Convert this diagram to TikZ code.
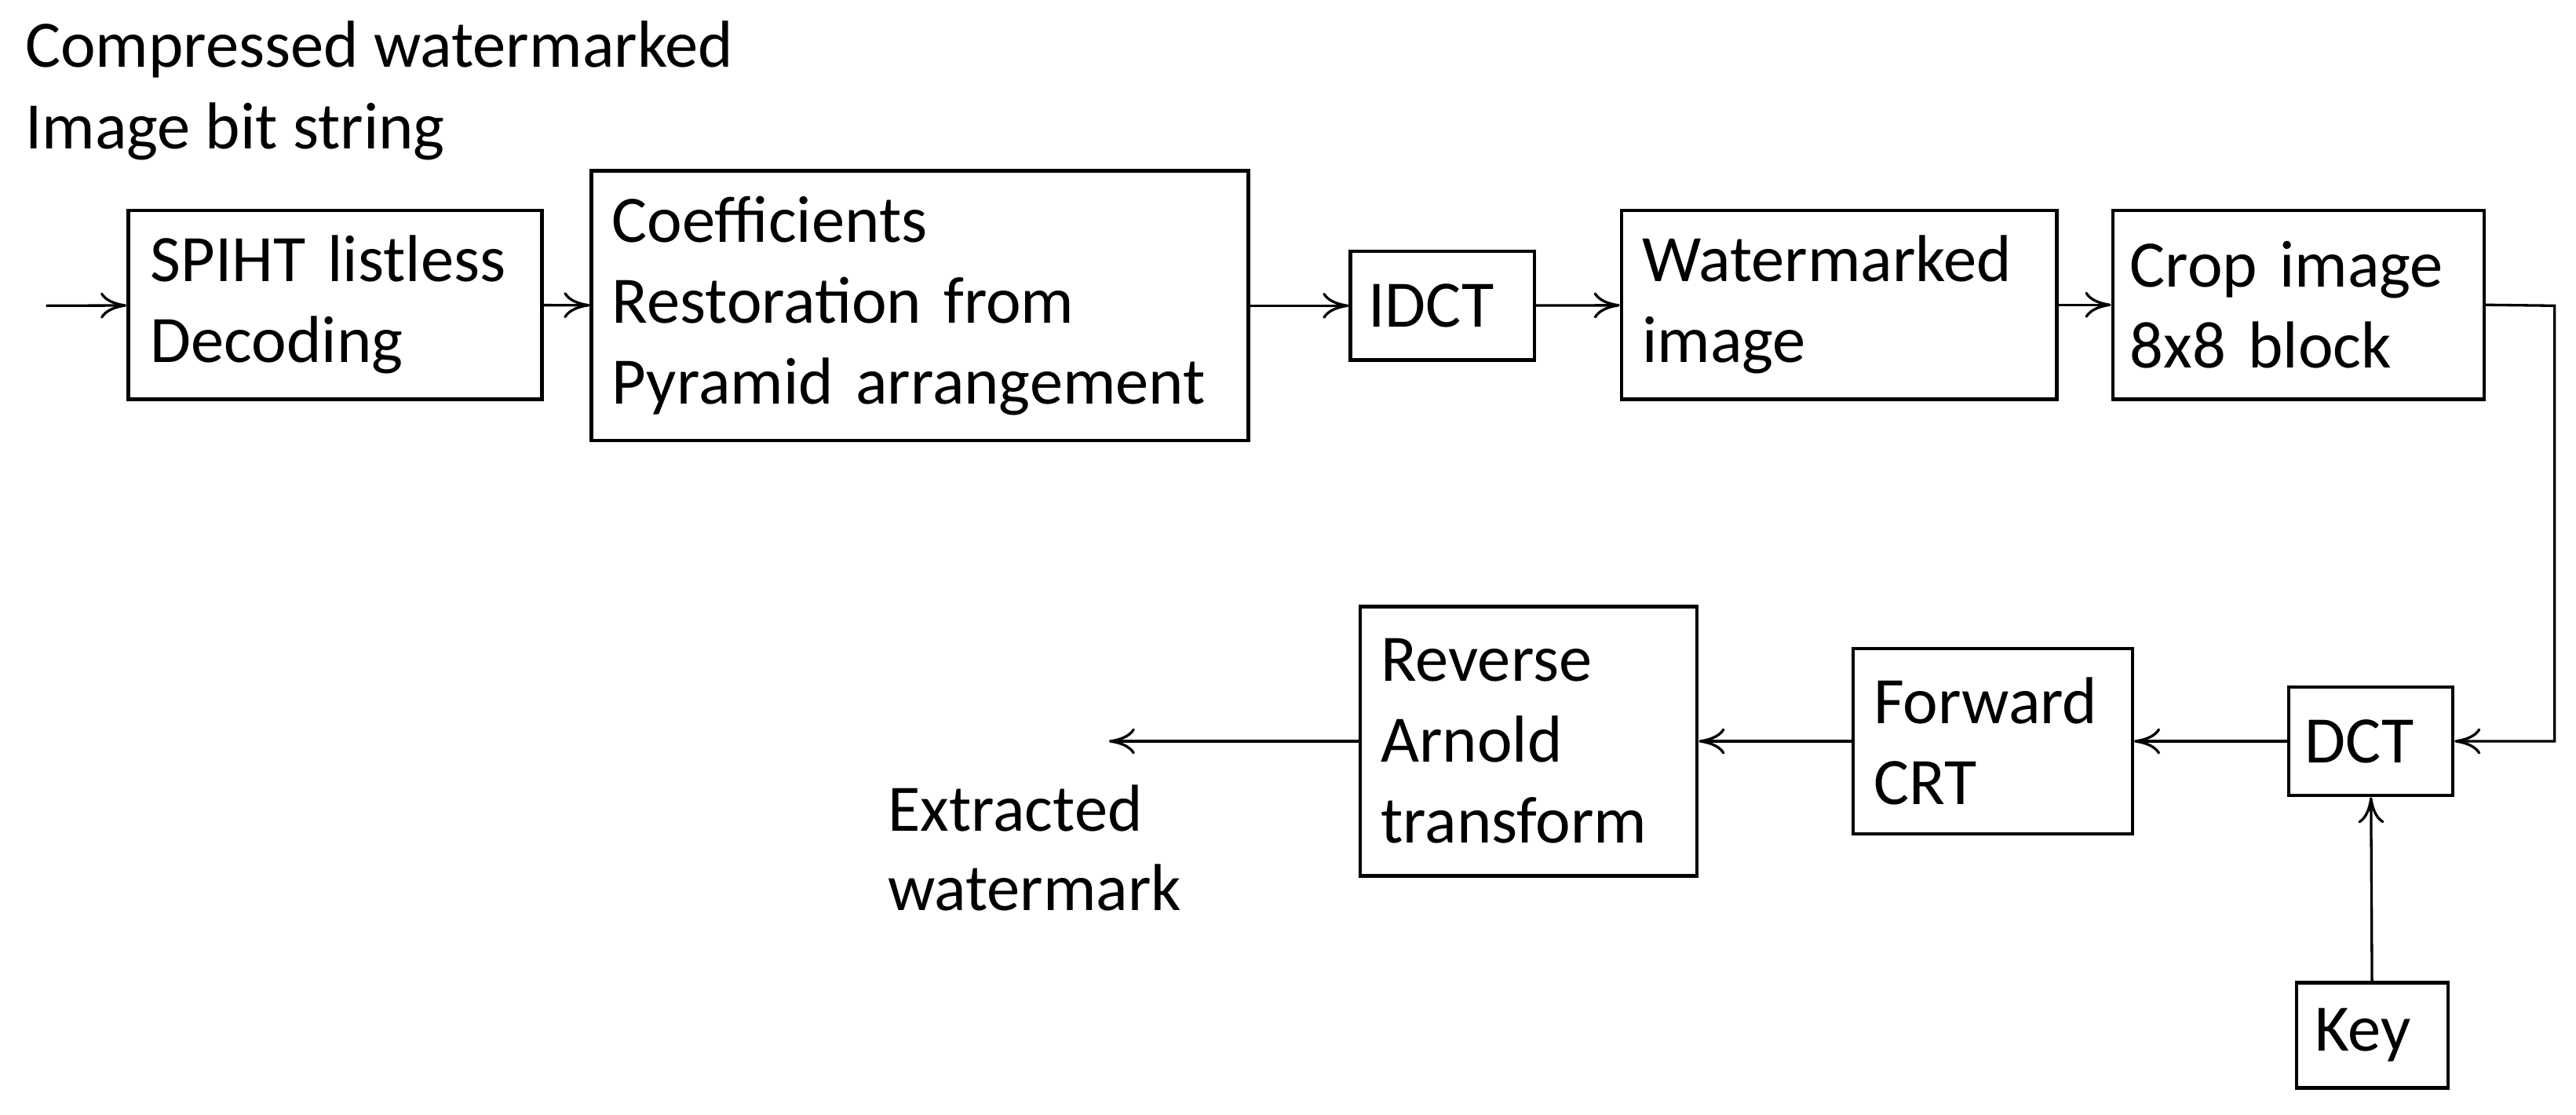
\documentclass[tikz,border=0pt]{standalone}
\usepackage{fontspec}
\setmainfont{Carlito}
\usetikzlibrary{arrows.meta}
\begin{document}
\begin{tikzpicture}[x=0.02cm,y=-0.02cm,
  box/.style={draw,line width=1.2pt,inner sep=0pt,align=left,font=\fontsize{23}{28}\selectfont},
  lbl/.style={inner sep=0pt,align=left,anchor=west,font=\fontsize{23}{28}\selectfont},
  arr/.style={-{To[length=9pt,width=9pt]},line width=0.9pt}]
\useasboundingbox (0,0) rectangle (1568,678);
\node[box,minimum width=5.04cm,minimum height=2.3cm,text width=4.5cm] (spiht) at (204,185.5) {SPIHT listless\\Decoding};
\node[box,minimum width=8cm,minimum height=3.28cm,text width=7.5cm] (coef) at (560,186) {Coefficients\\Restoration from\\Pyramid arrangement};
\node[box,minimum width=2.24cm,minimum height=1.32cm,text width=1.8cm] (idct) at (878,186) {IDCT};
\node[box,minimum width=5.3cm,minimum height=2.3cm,text width=4.8cm] (wm) at (1119.5,185.5) {Watermarked\\image};
\node[box,minimum width=4.52cm,minimum height=2.3cm,text width=4.1cm] (crop) at (1399,185.5) {Crop image\\8x8 block};
\node[box,minimum width=2.0cm,minimum height=1.32cm,text width=1.6cm] (dct) at (1443,451) {DCT};
\node[box,minimum width=1.84cm,minimum height=1.28cm,text width=1.4cm] (key) at (1444,630) {Key};
\node[box,minimum width=3.4cm,minimum height=2.26cm,text width=2.9cm] (crt) at (1213,451) {Forward\\CRT};
\node[box,minimum width=4.1cm,minimum height=3.28cm,text width=3.6cm] (arn) at (930.5,451) {Reverse\\Arnold\\transform};
\node[lbl] (t1) at (15,30) {Compressed watermarked};
\node[lbl] (t2) at (15,80) {Image bit string};
\node[lbl] (t3) at (540,492) {Extracted};
\node[lbl] (t4) at (540,540) {watermark};
\coordinate (in) at (28,186);
\coordinate (c1) at (1555,186);
\coordinate (c2) at (1555,451);
\coordinate (out) at (675,451);
\draw[arr] (in) -- (spiht);
\draw[arr] (spiht) -- (coef);
\draw[arr] (coef) -- (idct);
\draw[arr] (idct) -- (wm);
\draw[arr] (wm) -- (crop);
\draw[arr] (crop.east) -- (c1) -- (c2) -- (dct.east);
\draw[arr] (key) -- (dct);
\draw[arr] (dct) -- (crt);
\draw[arr] (crt) -- (arn);
\draw[arr] (arn.west) -- (out);
\end{tikzpicture}
\end{document}
